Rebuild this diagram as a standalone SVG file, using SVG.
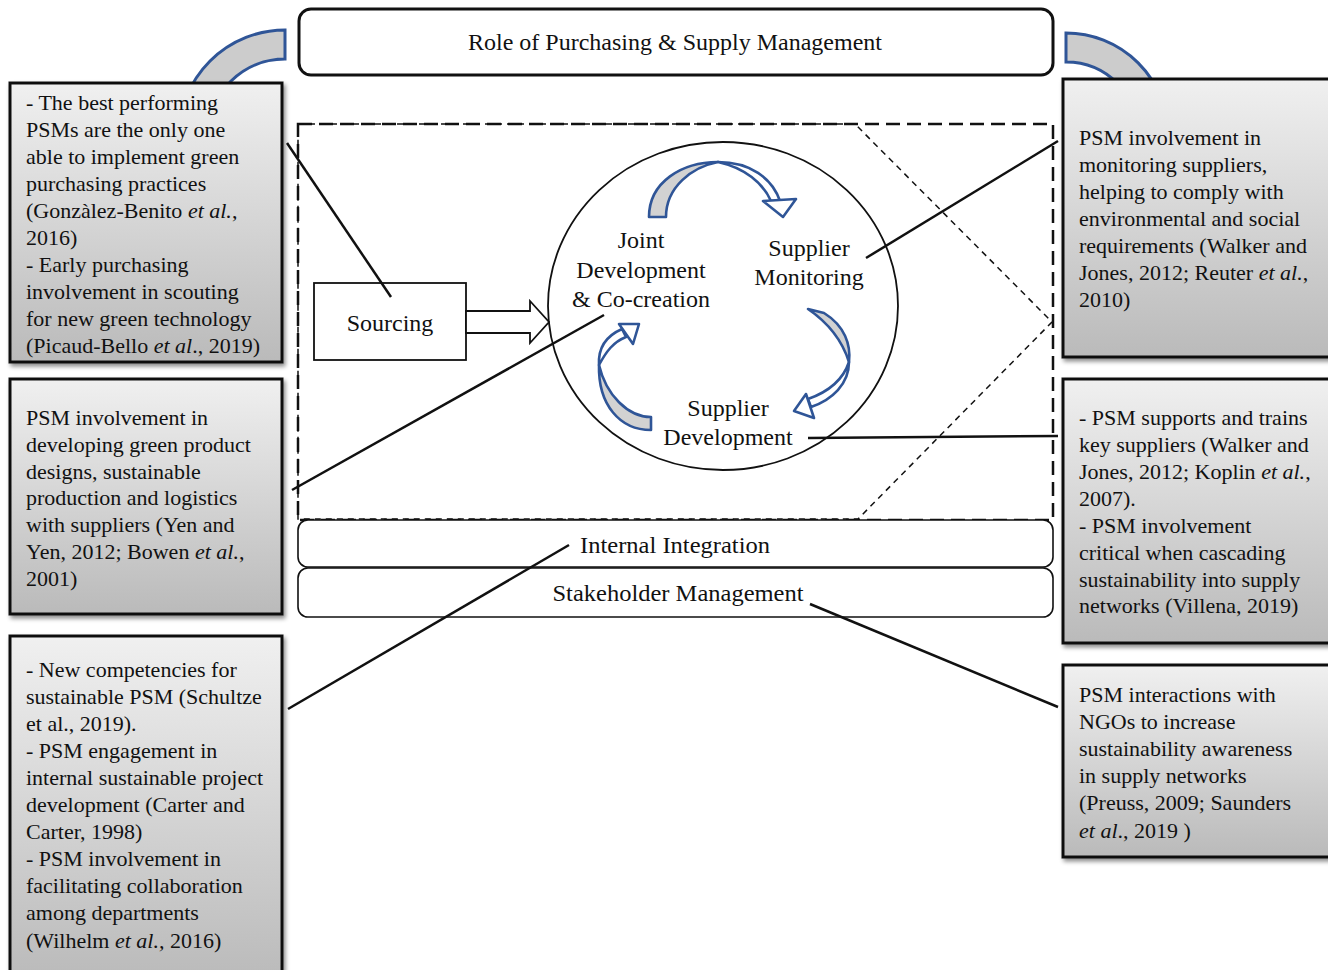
<svg xmlns="http://www.w3.org/2000/svg" width="1328" height="970" viewBox="0 0 1328 970">
  <defs>
    <linearGradient id="boxFill" x1="0" y1="0" x2="0" y2="1">
      <stop offset="0" stop-color="#f0f0f0"/>
      <stop offset="1" stop-color="#bababa"/>
    </linearGradient>
    <filter id="shadow" x="-5%" y="-5%" width="115%" height="115%">
      <feDropShadow dx="2" dy="3" stdDeviation="2" flood-color="#000" flood-opacity="0.45"/>
    </filter>
    <style>
      .note { fill: url(#boxFill); stroke: #111; stroke-width: 3; filter: url(#shadow); }
      .noteText { font-family: "Liberation Serif", "Times New Roman", serif; font-size: 22px; fill: #111; }
      .label { font-family: "Liberation Serif", "Times New Roman", serif; font-size: 24px; fill: #111; text-anchor: middle; }
      .frame { fill: #fff; stroke: #111; }
      .link { stroke: #111; stroke-width: 2.5; fill: none; }
      .bigArc { fill: #cccccc; stroke: #2f5597; stroke-width: 3; }
      .face { fill: #d2d2d2; stroke: #2f5597; stroke-width: 2.6; stroke-linejoin: round; }
      .band { fill: #fff; stroke: #2f5597; stroke-width: 2.6; stroke-linejoin: round; }
    </style>
  </defs>

  <rect width="1328" height="970" fill="#fff"/>

  <!-- curved block arrows leaving the title -->
  <g id="title-arc-left">
    <path class="bigArc" d="M 285 30 A 106 106 0 0 0 179 136 L 208 136 A 77 77 0 0 1 285 59 Z"/>
  </g>
  <g id="title-arc-right">
    <path class="bigArc" d="M 1066 33 A 102 102 0 0 1 1168 135 L 1139 135 A 73 73 0 0 0 1066 62 Z"/>
  </g>

  <!-- title -->
  <g id="title">
    <rect class="frame" x="299" y="9" width="754" height="66" rx="12" stroke-width="3"/>
    <text class="label" x="675" y="50" font-size="24.5px">Role of Purchasing &amp; Supply Management</text>
  </g>

  <!-- dashed scope of supplier-facing activities -->
  <g id="scope">
    <rect x="298" y="124" width="755" height="396" fill="none" stroke="#111" stroke-width="2.5" stroke-dasharray="14 7"/>
    <polygon points="298,124 855,124 1052,322 858,519 298,519" fill="none" stroke="#111" stroke-width="1.5" stroke-dasharray="6 5"/>
  </g>

  <!-- cycle circle -->
  <g id="cycle">
    <ellipse cx="723" cy="306" rx="175" ry="164" fill="#fff" stroke="#111" stroke-width="1.8"/>
  </g>

  <!-- sourcing box with block arrow -->
  <g id="sourcing">
    <rect x="314" y="283" width="152" height="77" fill="#fff" stroke="#111" stroke-width="1.8"/>
    <polygon points="466,311 530,311 530,301 549,322 530,343 530,333 466,333" fill="#fff" stroke="#111" stroke-width="1.8"/>
    <text class="label" x="390" y="331">Sourcing</text>
  </g>

  <!-- curved arrows between the three activities: shaded face, twisted band, hollow head -->
  <g id="cycle-arrows">
    <g id="arrow-co-creation-to-monitoring">
      <path class="face" d="M 649 217 C 649 182, 682 162, 718 162 C 692 167, 666 187, 666 217 Z"/>
      <path class="band" d="M 718 162 C 750 162, 772 178, 780 201 L 771 201 C 763 183, 745 168, 718 162 Z"/>
      <path class="band" d="M 763 201 L 796 199 L 783 217 Z"/>
    </g>
    <g id="arrow-monitoring-to-development">
      <path class="face" d="M 808 309 L 824 313 C 845 326, 851 345, 849 362 C 843 343, 830 324, 808 309 Z"/>
      <path class="band" d="M 849 362 C 849 384, 832 400, 811 407 L 808 399 C 828 392, 843 380, 849 362 Z"/>
      <path class="band" d="M 814 418 L 806 394 L 794 411 Z"/>
    </g>
    <g id="arrow-development-to-co-creation">
      <path class="face" d="M 651 430 L 651 417 C 628 417, 606 395, 599 365 C 598 405, 620 430, 651 430 Z"/>
      <path class="band" d="M 599 365 C 598 348, 606 336, 622 329 L 626 337 C 613 342, 606 352, 599 365 Z"/>
      <path class="band" d="M 633 344 L 619 324 L 639 324 Z"/>
    </g>
  </g>

  <g id="cycle-labels">
    <text class="label" x="641" y="248">Joint</text>
    <text class="label" x="641" y="278">Development</text>
    <text class="label" x="641" y="307">&amp; Co-creation</text>
    <text class="label" x="809" y="256">Supplier</text>
    <text class="label" x="809" y="285">Monitoring</text>
    <text class="label" x="728" y="416">Supplier</text>
    <text class="label" x="728" y="445">Development</text>
  </g>

  <!-- organisational layers -->
  <g id="internal-integration">
    <rect class="frame" x="298" y="520" width="755" height="47" rx="10" stroke-width="1.6"/>
    <text class="label" x="675" y="553" font-size="26px" textLength="190" lengthAdjust="spacingAndGlyphs">Internal Integration</text>
  </g>
  <g id="stakeholder-management">
    <rect class="frame" x="298" y="568" width="755" height="49" rx="10" stroke-width="1.6"/>
    <text class="label" x="678" y="601" font-size="26px" textLength="251" lengthAdjust="spacingAndGlyphs">Stakeholder Management</text>
  </g>

  <!-- literature notes, left -->
  <g id="note-sourcing">
    <rect class="note" x="10" y="83" width="272" height="279"/>
    <text class="noteText">
      <tspan x="26" y="110">- The best performing</tspan>
      <tspan x="26" y="137">PSMs are the only one</tspan>
      <tspan x="26" y="164">able to implement green</tspan>
      <tspan x="26" y="191">purchasing practices</tspan>
      <tspan x="26" y="218">(Gonzàlez-Benito <tspan font-style="italic">et al.</tspan>,</tspan>
      <tspan x="26" y="245">2016)</tspan>
      <tspan x="26" y="272">- Early purchasing</tspan>
      <tspan x="26" y="299">involvement in scouting</tspan>
      <tspan x="26" y="326">for new green technology</tspan>
      <tspan x="26" y="353">(Picaud-Bello <tspan font-style="italic">et al</tspan>., 2019)</tspan>
    </text>
  </g>
  <g id="note-joint-development">
    <rect class="note" x="10" y="379" width="272" height="235"/>
    <text class="noteText">
      <tspan x="26" y="425">PSM involvement in</tspan>
      <tspan x="26" y="452">developing green product</tspan>
      <tspan x="26" y="479">designs, sustainable</tspan>
      <tspan x="26" y="505">production and logistics</tspan>
      <tspan x="26" y="532">with suppliers (Yen and</tspan>
      <tspan x="26" y="559">Yen, 2012; Bowen <tspan font-style="italic">et al.</tspan>,</tspan>
      <tspan x="26" y="586">2001)</tspan>
    </text>
  </g>
  <g id="note-internal-integration">
    <rect class="note" x="10" y="636" width="272" height="345"/>
    <text class="noteText">
      <tspan x="26" y="677">- New competencies for</tspan>
      <tspan x="26" y="704">sustainable PSM (Schultze</tspan>
      <tspan x="26" y="731">et al., 2019).</tspan>
      <tspan x="26" y="758">- PSM engagement in</tspan>
      <tspan x="26" y="785">internal sustainable project</tspan>
      <tspan x="26" y="812">development (Carter and</tspan>
      <tspan x="26" y="839">Carter, 1998)</tspan>
      <tspan x="26" y="866">- PSM involvement in</tspan>
      <tspan x="26" y="893">facilitating collaboration</tspan>
      <tspan x="26" y="920">among departments</tspan>
      <tspan x="26" y="948">(Wilhelm <tspan font-style="italic">et al.,</tspan> 2016)</tspan>
    </text>
  </g>

  <!-- literature notes, right -->
  <g id="note-supplier-monitoring">
    <rect class="note" x="1063" y="79" width="275" height="278"/>
    <text class="noteText">
      <tspan x="1079" y="145">PSM involvement in</tspan>
      <tspan x="1079" y="172">monitoring suppliers,</tspan>
      <tspan x="1079" y="199">helping to comply with</tspan>
      <tspan x="1079" y="226">environmental and social</tspan>
      <tspan x="1079" y="253">requirements (Walker and</tspan>
      <tspan x="1079" y="280">Jones, 2012; Reuter <tspan font-style="italic">et al.</tspan>,</tspan>
      <tspan x="1079" y="307">2010)</tspan>
    </text>
  </g>
  <g id="note-supplier-development">
    <rect class="note" x="1063" y="379" width="275" height="264"/>
    <text class="noteText">
      <tspan x="1079" y="425">- PSM supports and trains</tspan>
      <tspan x="1079" y="452">key suppliers (Walker and</tspan>
      <tspan x="1079" y="479">Jones, 2012; Koplin <tspan font-style="italic">et al.</tspan>,</tspan>
      <tspan x="1079" y="506">2007).</tspan>
      <tspan x="1079" y="533">- PSM involvement</tspan>
      <tspan x="1079" y="560">critical when cascading</tspan>
      <tspan x="1079" y="587">sustainability into supply</tspan>
      <tspan x="1079" y="613">networks (Villena, 2019)</tspan>
    </text>
  </g>
  <g id="note-stakeholder-management">
    <rect class="note" x="1063" y="665" width="275" height="192"/>
    <text class="noteText">
      <tspan x="1079" y="702">PSM interactions with</tspan>
      <tspan x="1079" y="729">NGOs to increase</tspan>
      <tspan x="1079" y="756">sustainability awareness</tspan>
      <tspan x="1079" y="783">in supply networks</tspan>
      <tspan x="1079" y="810">(Preuss, 2009; Saunders</tspan>
      <tspan x="1079" y="838"><tspan font-style="italic">et al</tspan>., 2019 )</tspan>
    </text>
  </g>

  <!-- leader lines from notes to the activities they describe -->
  <g id="connectors">
    <line class="link" x1="287" y1="143" x2="391" y2="297"/>
    <line class="link" x1="292" y1="490" x2="604" y2="315"/>
    <line class="link" x1="288" y1="709" x2="569" y2="545"/>
    <line class="link" x1="1058" y1="141" x2="866" y2="258"/>
    <line class="link" x1="1058" y1="436" x2="808" y2="438"/>
    <line class="link" x1="1058" y1="707" x2="810" y2="604"/>
  </g>
</svg>
